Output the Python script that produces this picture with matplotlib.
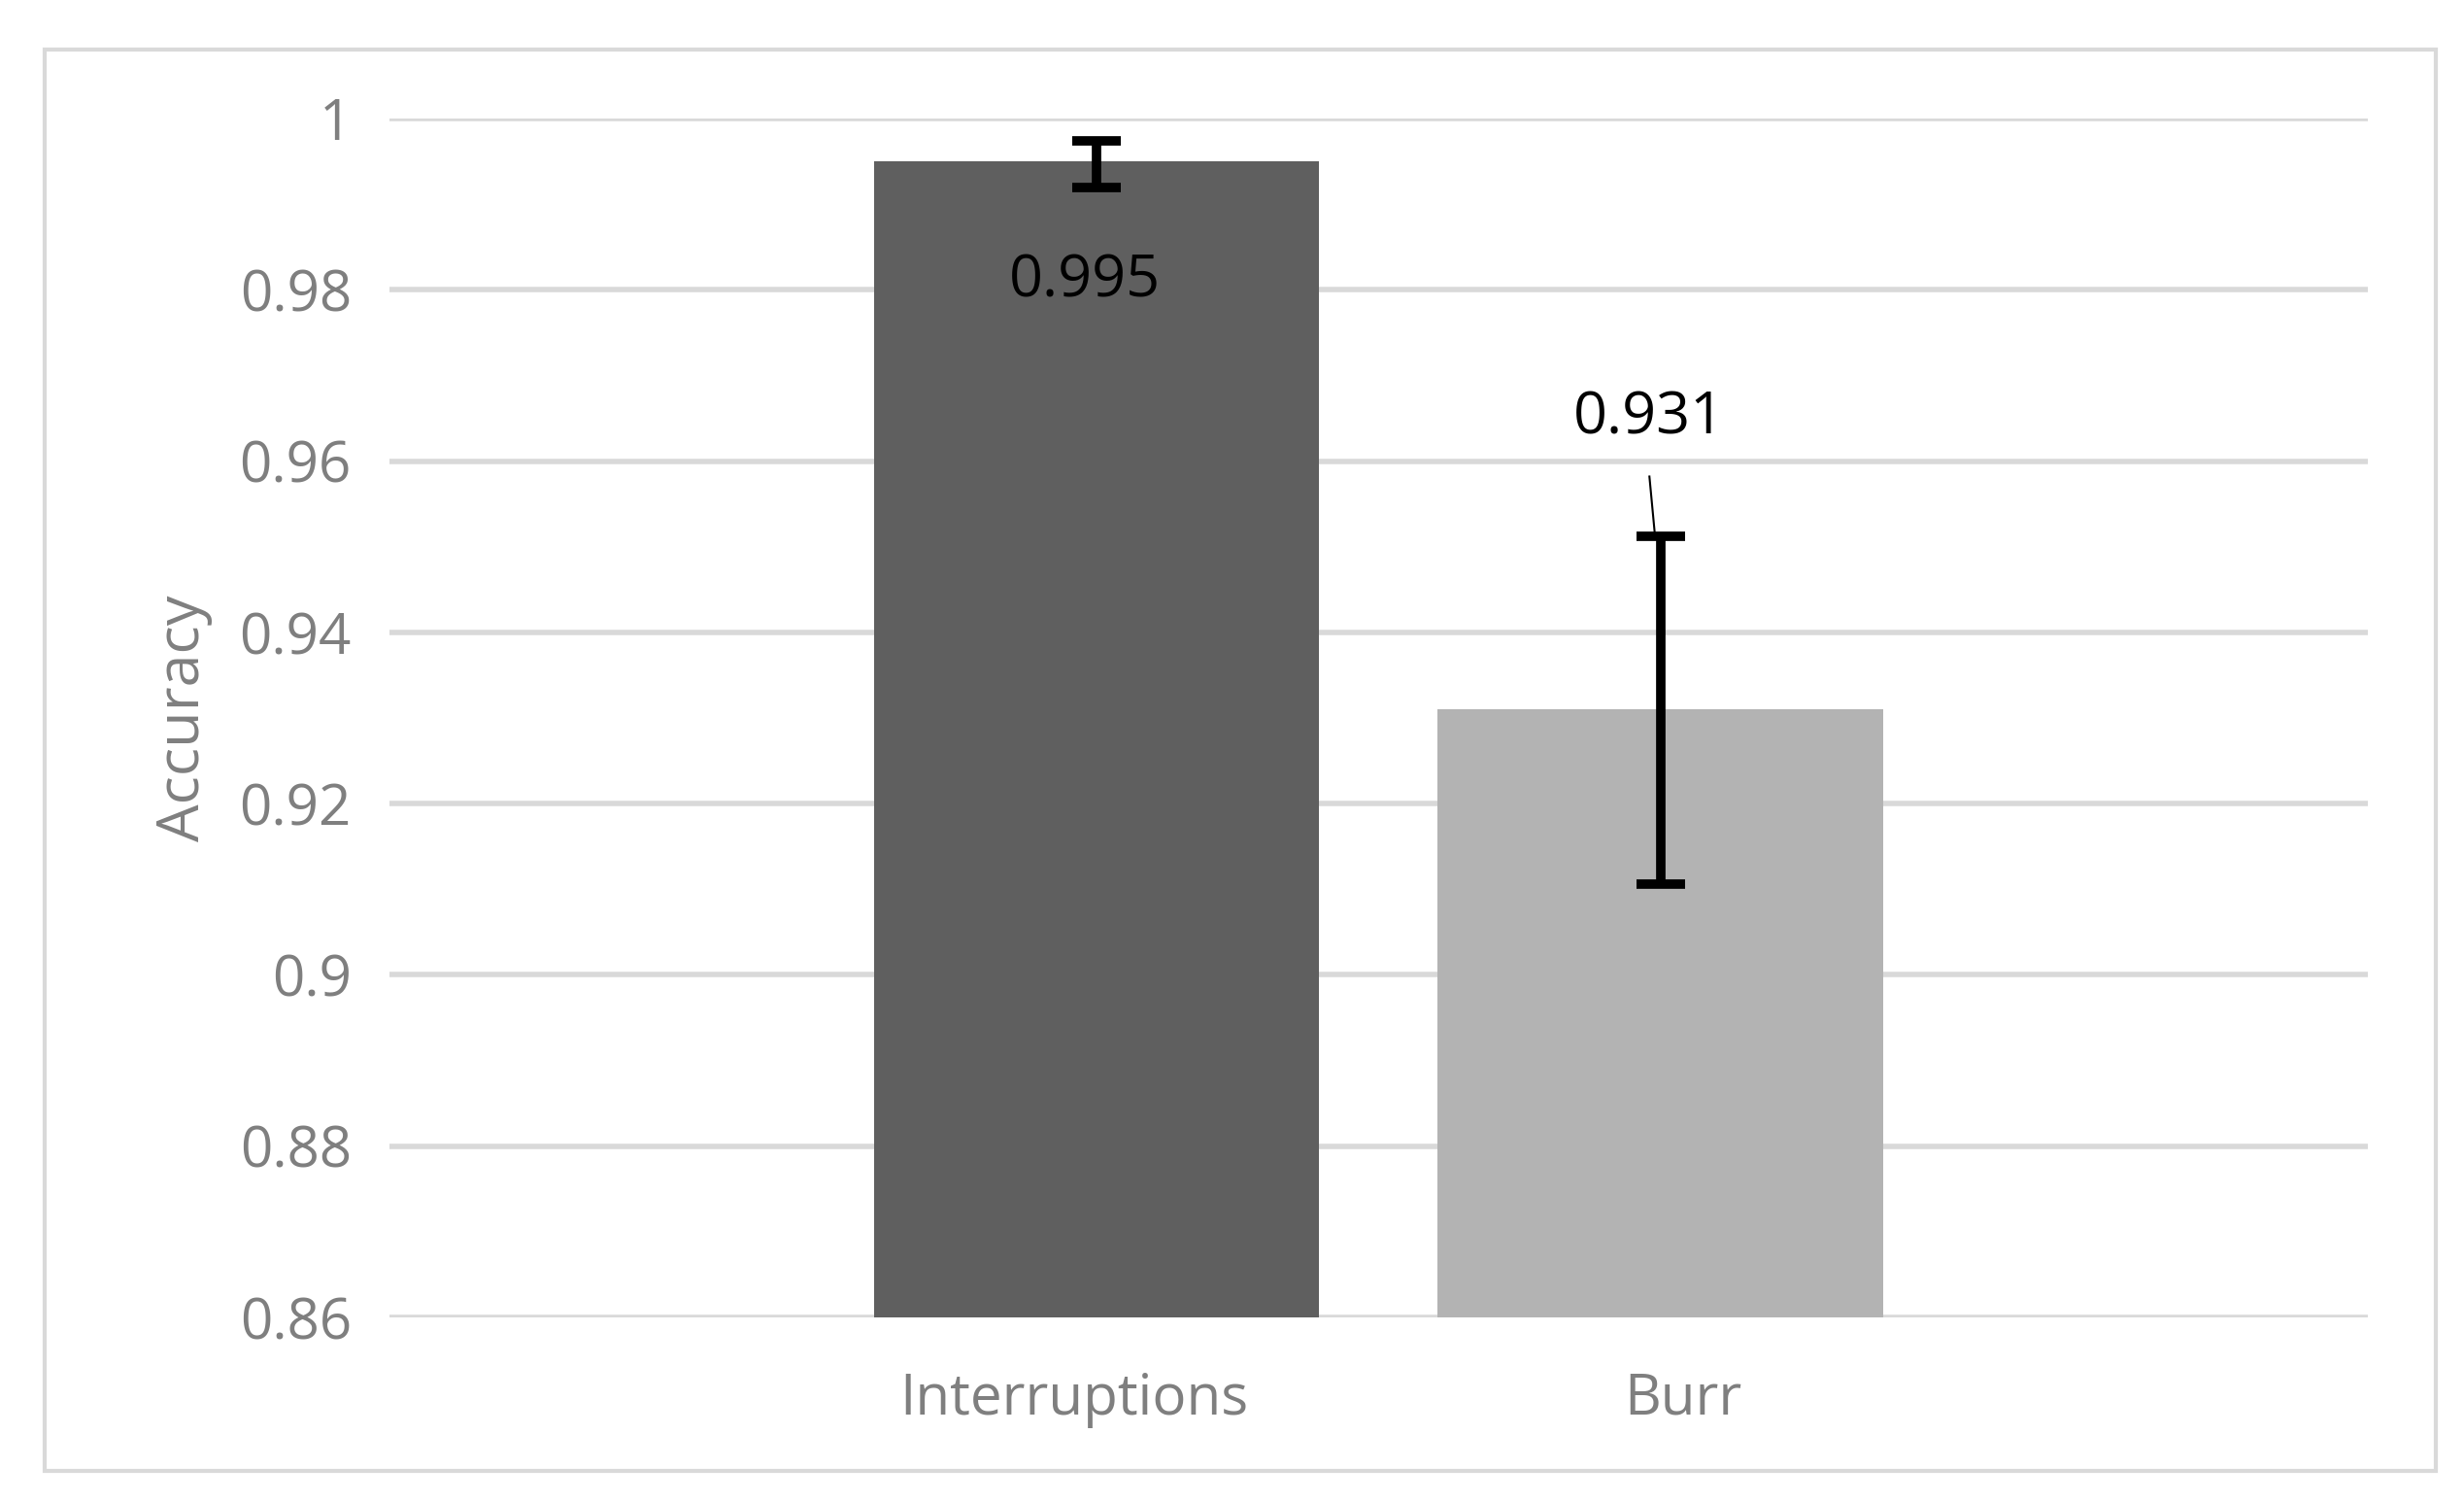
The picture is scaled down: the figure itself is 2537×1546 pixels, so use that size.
import matplotlib
matplotlib.use("Agg")
import matplotlib.pyplot as plt
from matplotlib.patches import Rectangle

categories = ["Interruptions", "Burr"]
values = [0.995, 0.931]
err_low = [0.9920, 0.9106]
err_high = [0.9974, 0.9512]
labels = ["0.995", "0.931"]
colors = ["#5f5f5f", "#b3b3b3"]
yticks = [0.86, 0.88, 0.90, 0.92, 0.94, 0.96, 0.98, 1.00]
ytick_labels = ["0.86", "0.88", "0.9", "0.92", "0.94", "0.96", "0.98", "1"]

plt.rcParams['font.family'] = ['Open Sans', 'DejaVu Sans']
fig = plt.figure(figsize=(25.37, 15.46), dpi=100)
fig.patches.append(Rectangle((0.018, 0.021), 0.9705, 0.946, transform=fig.transFigure,
                             fill=False, edgecolor="#d9d9d9", linewidth=3))
ax = fig.add_axes([0.158, 0.123, 0.803, 0.798])
x = [0, 1]
ax.bar(x, [v - 0.86 for v in values], bottom=0.86, width=0.79, color=colors, zorder=2)
for xi, v, lo, hi in zip(x, values, err_low, err_high):
    ax.errorbar([xi], [v], yerr=[[v - lo], [hi - v]], fmt="none", ecolor="black",
                elinewidth=7, capsize=18, capthick=7, zorder=3)
ax.text(-0.02, 0.981, labels[0], ha="center", va="center", fontsize=44, color="black", zorder=4)
ax.text(0.98, 0.965, labels[1], ha="center", va="center", fontsize=44, color="black", zorder=4)
ax.plot([0.98, 0.99], [0.9582, 0.9512], color="black", linewidth=1.5, zorder=4)
ax.set_xlim(-1.2535, 2.2535)
ax.set_ylim(0.86, 1.0)
ax.set_yticks(yticks)
ax.set_yticklabels(ytick_labels)
ax.set_xticks([-0.04, 1.04])
ax.set_xticklabels(categories)
ax.tick_params(axis="both", length=0, labelsize=42, labelcolor="#7f7f7f", pad=28)
ax.tick_params(axis="x", pad=40)
ax.grid(axis="y", color="#d9d9d9", linewidth=4, zorder=0)
ax.set_axisbelow(True)
for s in ax.spines.values():
    s.set_visible(False)
ax.set_ylabel("Accuracy", fontsize=44, color="#7f7f7f", labelpad=20)
fig.savefig("out.png", dpi=100)
